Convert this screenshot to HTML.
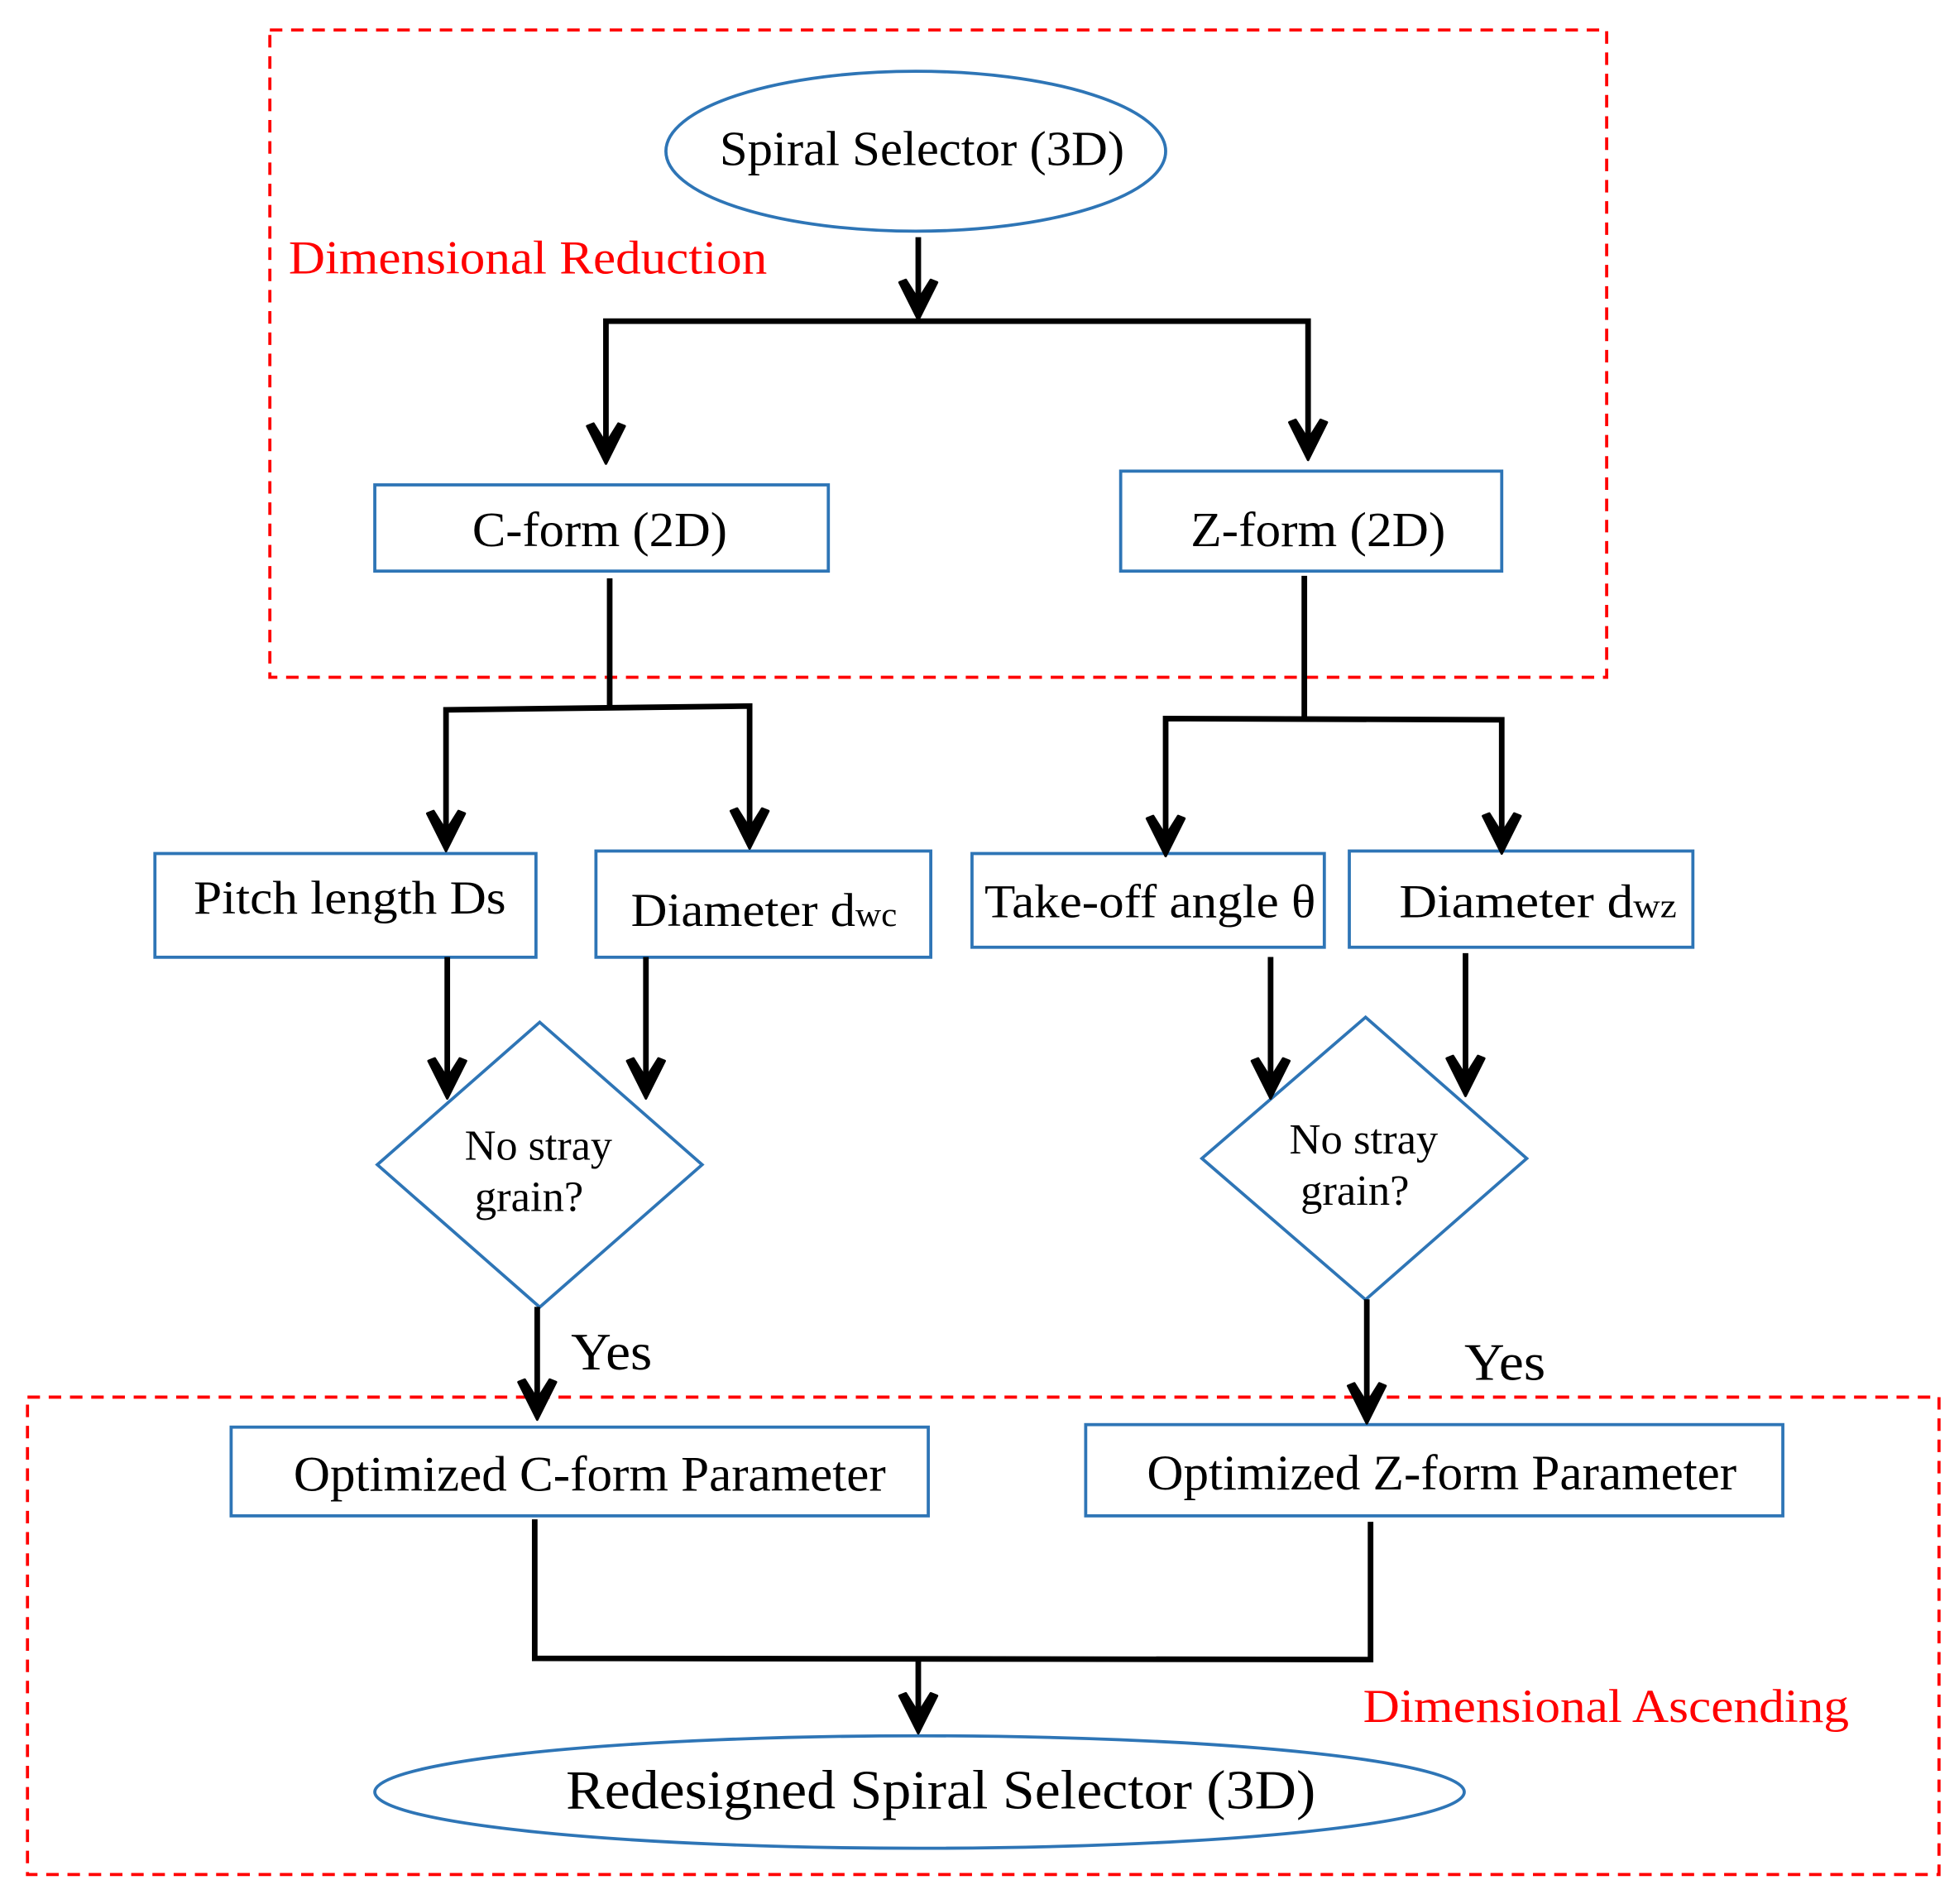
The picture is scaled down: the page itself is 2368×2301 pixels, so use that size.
<!DOCTYPE html>
<html><head><meta charset="utf-8"><style>
html,body{margin:0;padding:0;background:#fff;}
svg{display:block;}
text{font-family:"Liberation Serif",serif;}
</style></head><body>
<svg width="2368" height="2301" viewBox="0 0 1568 1523.6" preserveAspectRatio="none" xmlns="http://www.w3.org/2000/svg">
<defs>
<g id="ah"><path d="M0,0 L-15,-30 L-10,-32 L0,-16 L10,-32 L15,-30 Z" fill="#000" stroke="#000" stroke-width="2" stroke-linejoin="round"/></g>
</defs>
<rect width="1568" height="1523.6" fill="#fff"/>
<rect x="216" y="24" width="1070" height="518" fill="none" stroke="#f00" stroke-width="2.5" stroke-dasharray="10,7"/>
<rect x="22" y="1118" width="1530" height="382" fill="none" stroke="#f00" stroke-width="2.5" stroke-dasharray="10,7"/>
<text x="231" y="219" font-size="38" fill="#f00" textLength="383" lengthAdjust="spacingAndGlyphs">Dimensional Reduction</text>
<text x="1091" y="1378" font-size="38" fill="#f00" textLength="389" lengthAdjust="spacingAndGlyphs">Dimensional Ascending</text>

<g fill="none" stroke="#2e75b6" stroke-width="2.5">
<ellipse cx="733" cy="121" rx="200" ry="64"/>
<rect x="300" y="388" width="363" height="69"/>
<rect x="897" y="377" width="305" height="80"/>
<rect x="124" y="683" width="305" height="83"/>
<rect x="477" y="681" width="268" height="85"/>
<rect x="778" y="683" width="282" height="75"/>
<rect x="1080" y="681" width="275" height="77"/>
<polygon points="432,818 562,932 432,1046 302,932"/>
<polygon points="1093,814 1222,927 1093,1040 962,927"/>
<rect x="185" y="1142" width="558" height="71"/>
<rect x="869" y="1140" width="558" height="73"/>
<ellipse cx="736" cy="1434" rx="436" ry="45"/>
</g>

<g stroke="#000" stroke-width="4.5" fill="none" stroke-linecap="square">
<line x1="735" y1="192" x2="735" y2="250"/>
<polyline points="485,365 485,257 1047,257 1047,362"/>
<line x1="488" y1="465" x2="488" y2="566"/>
<polyline points="357,675 357,568 600,565 600,673"/>
<line x1="1044" y1="463" x2="1044" y2="574"/>
<polyline points="933,679 933,575 1202,576 1202,677"/>
<line x1="358" y1="768" x2="358" y2="872"/>
<line x1="517" y1="768" x2="517" y2="872"/>
<line x1="1017" y1="768" x2="1017" y2="872"/>
<line x1="1173" y1="765" x2="1173" y2="870"/>
<line x1="430" y1="1048" x2="430" y2="1128"/>
<line x1="1094" y1="1042" x2="1094" y2="1132"/>
<polyline points="428,1218 428,1327 1097,1328 1097,1220"/>
<line x1="735" y1="1328" x2="735" y2="1380"/>
</g>
<use href="#ah" x="735" y="256"/>
<use href="#ah" x="485" y="371"/>
<use href="#ah" x="1047" y="368"/>
<use href="#ah" x="357" y="681"/>
<use href="#ah" x="600" y="679"/>
<use href="#ah" x="933" y="685"/>
<use href="#ah" x="1202" y="683"/>
<use href="#ah" x="358" y="879"/>
<use href="#ah" x="517" y="879"/>
<use href="#ah" x="1017" y="879"/>
<use href="#ah" x="1173" y="877"/>
<use href="#ah" x="430" y="1136"/>
<use href="#ah" x="1094" y="1139"/>
<use href="#ah" x="735" y="1387"/>

<g fill="#000" lengthAdjust="spacingAndGlyphs">
<text x="576" y="132" font-size="39" textLength="324" lengthAdjust="spacingAndGlyphs">Spiral Selector (3D)</text>
<text x="378" y="437" font-size="39" textLength="204" lengthAdjust="spacingAndGlyphs">C-form (2D)</text>
<text x="953" y="437" font-size="39" textLength="204" lengthAdjust="spacingAndGlyphs">Z-form (2D)</text>
<text x="155" y="731" font-size="38" textLength="250" lengthAdjust="spacingAndGlyphs">Pitch length Ds</text>
<text x="505" y="741" font-size="38" textLength="213" lengthAdjust="spacingAndGlyphs">Diameter d<tspan font-size="27">wc</tspan></text>
<text x="788" y="734" font-size="38" textLength="265" lengthAdjust="spacingAndGlyphs">Take-off angle θ</text>
<text x="1120" y="734" font-size="38" textLength="222" lengthAdjust="spacingAndGlyphs">Diameter d<tspan font-size="27">wz</tspan></text>
<text x="372" y="928" font-size="34" textLength="118" lengthAdjust="spacingAndGlyphs">No stray</text>
<text x="380" y="969" font-size="34" textLength="87" lengthAdjust="spacingAndGlyphs">grain?</text>
<text x="1032" y="923" font-size="34" textLength="119" lengthAdjust="spacingAndGlyphs">No stray</text>
<text x="1041" y="964" font-size="34" textLength="87" lengthAdjust="spacingAndGlyphs">grain?</text>
<text x="457" y="1096" font-size="42" textLength="65" lengthAdjust="spacingAndGlyphs">Yes</text>
<text x="1172" y="1104" font-size="42" textLength="65" lengthAdjust="spacingAndGlyphs">Yes</text>
<text x="235" y="1193" font-size="40" textLength="474" lengthAdjust="spacingAndGlyphs">Optimized C-form Parameter</text>
<text x="918" y="1192" font-size="40" textLength="472" lengthAdjust="spacingAndGlyphs">Optimized Z-form Parameter</text>
<text x="453" y="1447" font-size="44" textLength="600" lengthAdjust="spacingAndGlyphs">Redesigned Spiral Selector (3D)</text>
</g>
</svg>
</body></html>
